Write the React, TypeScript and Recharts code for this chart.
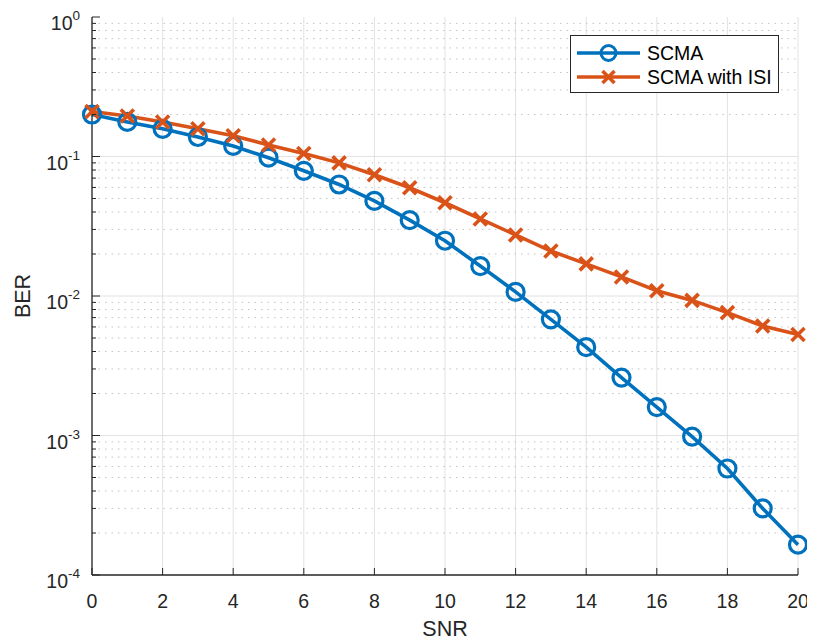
import React from 'react';
import { LineChart, Line, XAxis, YAxis, CartesianGrid, ReferenceLine } from 'recharts';

// ---------- data ----------
const snr = [0, 1, 2, 3, 4, 5, 6, 7, 8, 9, 10, 11, 12, 13, 14, 15, 16, 17, 18, 19, 20];
const scmaBer = [0.2, 0.177, 0.158, 0.138, 0.119, 0.098, 0.079, 0.063, 0.048, 0.035, 0.0249, 0.0164, 0.0107, 0.0068, 0.0043, 0.0026, 0.0016, 0.00098, 0.00058, 0.0003, 0.000165];
const isiBer = [0.21, 0.195, 0.177, 0.158, 0.141, 0.121, 0.105, 0.09, 0.074, 0.0597, 0.0466, 0.0357, 0.0274, 0.021, 0.017, 0.0137, 0.0109, 0.0093, 0.0076, 0.0061, 0.0053];
const seriesNames = ['SCMA', 'SCMA with ISI'];
const xTicks = [0, 2, 4, 6, 8, 10, 12, 14, 16, 18, 20];
const yMajorTicks = [1e-4, 1e-3, 1e-2, 1e-1, 1];
const yExponents = ['-4', '-3', '-2', '-1', '0'];
const minorMultipliers = [2, 3, 4, 5, 6, 7, 8, 9];
const xLabel = 'SNR';
const yLabel = 'BER';

const yMinorTicks = yMajorTicks.slice(0, 4).flatMap((d) => minorMultipliers.map((m) => Number((d * m).toPrecision(3))));
const yAllTicks = [...yMajorTicks, ...yMinorTicks].sort((a, b) => a - b);
const data = snr.map((s, i) => ({ snr: s, scma: scmaBer[i], isi: isiBer[i] }));

// ---------- style ----------
const AXIS = '#262626';
const GRID = '#e2e2e2';
const MINOR = '#c4c4c4';
const BLUE = '#0072BD';
const ORANGE = '#D95319';
const FONT = '"Liberation Sans", Arial, Helvetica, sans-serif';

const isMajor = (v: number) => yMajorTicks.some((m) => Math.abs(m - v) / m < 1e-6);
const expOf = (v: number) => {
  const i = yMajorTicks.findIndex((m) => Math.abs(m - v) / m < 1e-6);
  return i >= 0 ? yExponents[i] : '';
};

const XBottomTick = (p: any) => {
  const { x, y, payload } = p;
  return (
    <g>
      <line x1={x} x2={x} y1={y} y2={y - 7} stroke={AXIS} strokeWidth={1} />
      <text x={x} y={y + 32.5} textAnchor="middle" fontSize={19.5} fill={AXIS} fontFamily={FONT}>
        {payload.value}
      </text>
    </g>
  );
};

const XTopTick = (p: any) => {
  const { x, y } = p;
  return <line x1={x} x2={x} y1={y} y2={y + 7} stroke={AXIS} strokeWidth={1} />;
};

const YLeftTick = (p: any) => {
  const { x, y, payload } = p;
  const v = payload.value;
  if (!isMajor(v)) {
    return <line x1={x} x2={x + 4} y1={y} y2={y} stroke={AXIS} strokeWidth={1} />;
  }
  return (
    <g>
      <line x1={x} x2={x + 8} y1={y} y2={y} stroke={AXIS} strokeWidth={1} />
      <text x={x - 12} y={y + 13} textAnchor="end" fill={AXIS} fontFamily={FONT} fontSize={19.5}>
        10
        <tspan dy={-10} fontSize={13.5}>{expOf(v)}</tspan>
      </text>
    </g>
  );
};

const YRightTick = (p: any) => {
  const { x, y, payload } = p;
  const len = isMajor(payload.value) ? 8 : 4;
  return <line x1={x} x2={x - len} y1={y} y2={y} stroke={AXIS} strokeWidth={1} />;
};

const CircleDot = (p: any) => {
  if (p.cx == null || p.cy == null) return null;
  return <circle key={`c-${p.index}`} cx={p.cx} cy={p.cy} r={8.5} fill="none" stroke={BLUE} strokeWidth={3.2} />;
};

const CrossDot = (p: any) => {
  if (p.cx == null || p.cy == null) return null;
  const s = 6.5;
  return (
    <g key={`x-${p.index}`}>
      <line x1={p.cx - s} y1={p.cy - s} x2={p.cx + s} y2={p.cy + s} stroke={ORANGE} strokeWidth={3.6} />
      <line x1={p.cx - s} y1={p.cy + s} x2={p.cx + s} y2={p.cy - s} stroke={ORANGE} strokeWidth={3.6} />
    </g>
  );
};

const XTitle = (p: any) => {
  const { viewBox } = p;
  const cx = viewBox.x + viewBox.width / 2;
  return (
    <text x={cx} y={viewBox.y + viewBox.height - 1} textAnchor="middle" fontSize={21.5} fill={AXIS} fontFamily={FONT}>
      {xLabel}
    </text>
  );
};

const YTitle = (p: any) => {
  const { viewBox } = p;
  const cx = 15;
  const cy = viewBox.y + viewBox.height / 2;
  return (
    <text
      x={cx}
      y={cy}
      transform={`rotate(-90 ${cx} ${cy})`}
      textAnchor="middle"
      dominantBaseline="central"
      fontSize={21.5}
      fill={AXIS}
      fontFamily={FONT}
    >
      {yLabel}
    </text>
  );
};

const LegendBox = () => {
  const rows = [
    { name: seriesNames[0], color: BLUE, marker: 'o' },
    { name: seriesNames[1], color: ORANGE, marker: 'x' },
  ];
  const w = 207;
  const h = 56;
  return (
    <div
      style={{
        position: 'absolute',
        left: 562,
        top: 27,
        width: w,
        height: h,
        background: '#fff',
        border: `1px solid ${AXIS}`,
        fontFamily: FONT,
      }}
    >
      <svg width={w} height={h} style={{ display: 'block' }}>
        {rows.map((r, i) => {
          const cy = 17 + i * 24;
          return (
            <g key={r.name}>
              <line x1={6} x2={69} y1={cy} y2={cy} stroke={r.color} strokeWidth={3.5} />
              {r.marker === 'o' ? (
                <circle cx={37.5} cy={cy} r={7.5} fill="none" stroke={r.color} strokeWidth={3} />
              ) : (
                <g>
                  <line x1={31.5} y1={cy - 6} x2={43.5} y2={cy + 6} stroke={r.color} strokeWidth={3.5} />
                  <line x1={31.5} y1={cy + 6} x2={43.5} y2={cy - 6} stroke={r.color} strokeWidth={3.5} />
                </g>
              )}
              <text x={76} y={cy + 7} fontSize={19.5} fill="#000" fontFamily={FONT}>
                {r.name}
              </text>
            </g>
          );
        })}
      </svg>
    </div>
  );
};

export default function App() {
  return (
    <div style={{ position: 'relative', width: 807, height: 636, background: '#fff' }}>
      <LineChart
        width={807}
        height={636}
        data={data}
        margin={{ top: 9, right: 17, bottom: 7, left: 0 }}
        style={{ fontFamily: FONT }}
      >
        <CartesianGrid xAxisId="b" yAxisId="l" horizontal={false} stroke={GRID} strokeWidth={1} />
        {yMinorTicks.map((v) => (
          <ReferenceLine
            key={`m-${v}`}
            xAxisId="b"
            yAxisId="l"
            y={v}
            stroke={MINOR}
            strokeWidth={1}
            strokeDasharray="1.5 5"
          />
        ))}
        {yMajorTicks.slice(1, 4).map((v) => (
          <ReferenceLine key={`M-${v}`} xAxisId="b" yAxisId="l" y={v} stroke={GRID} strokeWidth={1} />
        ))}
        <XAxis
          xAxisId="b"
          dataKey="snr"
          type="number"
          domain={[0, 20]}
          ticks={xTicks}
          interval={0}
          tickSize={0}
          tickMargin={0}
          tickLine={false}
          height={62}
          axisLine={{ stroke: AXIS, strokeWidth: 1.3 }}
          tick={<XBottomTick />}
          label={<XTitle />}
        />
        <XAxis
          xAxisId="t"
          orientation="top"
          dataKey="snr"
          type="number"
          domain={[0, 20]}
          ticks={xTicks}
          interval={0}
          tickSize={0}
          tickMargin={0}
          tickLine={false}
          height={0}
          axisLine={{ stroke: AXIS, strokeWidth: 1.3 }}
          tick={<XTopTick />}
        />
        <YAxis
          yAxisId="l"
          type="number"
          scale="log"
          domain={[1e-4, 1]}
          allowDataOverflow
          ticks={yAllTicks}
          interval={0}
          tickSize={0}
          tickMargin={0}
          tickLine={false}
          width={84}
          axisLine={{ stroke: AXIS, strokeWidth: 1.3 }}
          tick={<YLeftTick />}
          label={<YTitle />}
        />
        <YAxis
          yAxisId="r"
          orientation="right"
          type="number"
          scale="log"
          domain={[1e-4, 1]}
          allowDataOverflow
          ticks={yAllTicks}
          interval={0}
          tickSize={0}
          tickMargin={0}
          tickLine={false}
          width={0}
          axisLine={{ stroke: AXIS, strokeWidth: 1.3 }}
          tick={<YRightTick />}
        />
        <Line
          xAxisId="b"
          yAxisId="l"
          dataKey="scma"
          name={seriesNames[0]}
          stroke={BLUE}
          strokeWidth={3.6}
          dot={<CircleDot />}
          activeDot={false}
          isAnimationActive={false}
        />
        <Line
          xAxisId="b"
          yAxisId="l"
          dataKey="isi"
          name={seriesNames[1]}
          stroke={ORANGE}
          strokeWidth={3.6}
          dot={<CrossDot />}
          activeDot={false}
          isAnimationActive={false}
        />
      </LineChart>
      <LegendBox />
    </div>
  );
}
